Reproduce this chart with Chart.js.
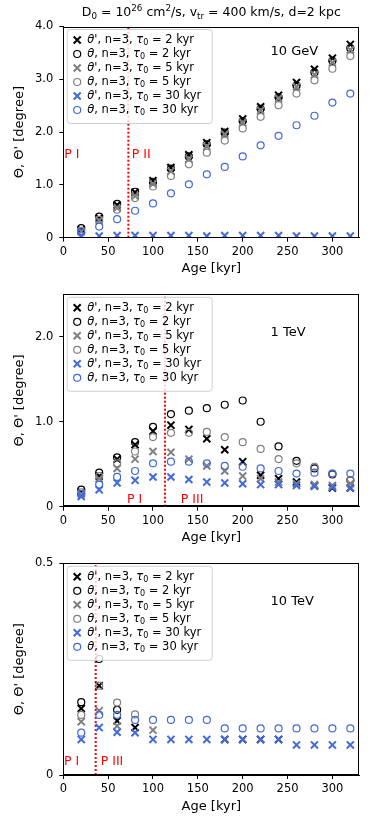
<!DOCTYPE html>
<html>
<head>
<meta charset="utf-8">
<script src="https://cdn.jsdelivr.net/npm/chart.js@4.4.0/dist/chart.umd.min.js"></script>
<style>
  body { margin: 0; background: #fff; width: 374px; height: 821px; overflow: hidden; position: relative; }
  canvas { position: absolute; left: 0; }
</style>
</head>
<body>
<canvas id="c1" width="374" height="280" style="top:0px"></canvas>
<canvas id="c2" width="374" height="275" style="top:275px"></canvas>
<canvas id="c3" width="374" height="276" style="top:545px"></canvas>
<script>
// Edades de las fuentes (kyr)
const ages = [20, 40, 60, 80, 100, 120, 140, 160, 180, 200, 220, 240, 260, 280, 300, 320];
const xTicks = [0, 50, 100, 150, 200, 250, 300];

// 10 GeV
const gev10ThP2 = [0.15, 0.37, 0.62, 0.86, 1.08, 1.33, 1.57, 1.80, 2.01, 2.25, 2.48, 2.70, 2.94, 3.19, 3.40, 3.66];
const gev10Th2 = [0.18, 0.40, 0.64, 0.87, 1.06, 1.31, 1.54, 1.77, 1.99, 2.21, 2.44, 2.66, 2.88, 3.13, 3.35, 3.59];
const gev10ThP5 = [0.12, 0.33, 0.56, 0.79, 1.02, 1.26, 1.49, 1.73, 1.96, 2.18, 2.41, 2.64, 2.86, 3.09, 3.32, 3.56];
const gev10Th5 = [0.13, 0.34, 0.53, 0.75, 0.97, 1.17, 1.39, 1.61, 1.84, 2.07, 2.29, 2.51, 2.73, 2.98, 3.20, 3.44];
const gev10ThP30 = [0.03, 0.03, 0.04, 0.04, 0.04, 0.04, 0.04, 0.03, 0.04, 0.04, 0.04, 0.04, 0.03, 0.03, 0.03, 0.03];
const gev10Th30 = [0.10, 0.21, 0.35, 0.51, 0.65, 0.84, 1.01, 1.20, 1.34, 1.54, 1.75, 1.93, 2.13, 2.31, 2.56, 2.73];

// 1 TeV
const tev1ThP2 = [0.17, 0.36, 0.56, 0.73, 0.89, 0.96, 0.91, 0.80, 0.67, 0.53, 0.37, 0.33, 0.29, 0.25, 0.22, 0.22];
const tev1Th2 = [0.20, 0.40, 0.58, 0.76, 0.94, 1.09, 1.13, 1.16, 1.20, 1.25, 1.00, 0.71, 0.54, 0.45, 0.38, 0.31];
const tev1ThP5 = [0.15, 0.33, 0.45, 0.56, 0.65, 0.64, 0.56, 0.48, 0.42, 0.36, 0.33, 0.29, 0.27, 0.26, 0.25, 0.27];
const tev1Th5 = [0.17, 0.36, 0.51, 0.65, 0.82, 0.87, 0.87, 0.88, 0.82, 0.76, 0.68, 0.56, 0.51, 0.47, 0.39, 0.31];
const tev1ThP30 = [0.12, 0.20, 0.28, 0.31, 0.35, 0.35, 0.32, 0.29, 0.28, 0.27, 0.26, 0.26, 0.25, 0.24, 0.23, 0.22];
const tev1Th30 = [0.15, 0.26, 0.35, 0.42, 0.51, 0.53, 0.53, 0.51, 0.48, 0.47, 0.45, 0.42, 0.39, 0.40, 0.39, 0.39];

// 10 TeV
const tev10ThP2 = [0.157, 0.211, 0.128, 0.112, null, null, null, null, 0.084, 0.084, 0.084, 0.084, null, null, null, null];
const tev10Th2 = [0.172, 0.274, 0.154, null, null, null, null, null, null, null, null, null, null, null, null, null];
const tev10ThP5 = [0.126, 0.152, 0.116, null, 0.106, null, null, null, null, null, null, null, null, null, null, null];
const tev10Th5 = [0.142, 0.211, 0.171, 0.143, null, null, null, null, null, null, null, null, null, null, null, null];
const tev10ThP30 = [0.084, 0.112, 0.101, 0.100, 0.084, 0.084, 0.084, 0.084, 0.084, 0.084, 0.084, 0.084, 0.071, 0.071, 0.071, 0.071];
const tev10Th30 = [0.100, 0.142, 0.142, 0.130, 0.130, 0.130, 0.130, 0.130, 0.110, 0.110, 0.110, 0.110, 0.110, 0.110, 0.110, 0.110];

// Leyenda
const legendPrime = [true, false, true, false, true, false];
const legendTau = [2, 2, 5, 5, 30, 30];
const colores = ['#000000', '#000000', '#808080', '#808080', '#4169e1', '#4169e1'];
const FONT = '"DejaVu Sans"';

function serie(arr) {
    return ages.map((a, i) => ({ x: a, y: arr[i] })).filter(p => p.y !== null);
}

// Texto con subíndices / superíndices / cursiva
function medirRico(ctx, segs, size) {
    let w = 0;
    segs.forEach(s => {
        const fs = (s.sub || s.sup) ? size * 0.7 : size;
        ctx.font = (s.it ? 'italic ' : '') + fs + 'px ' + FONT;
        w += ctx.measureText(s.t).width;
    });
    return w;
}
function dibujarRico(ctx, segs, x, y, size) {
    segs.forEach(s => {
        const fs = (s.sub || s.sup) ? size * 0.7 : size;
        ctx.font = (s.it ? 'italic ' : '') + fs + 'px ' + FONT;
        const dy = s.sub ? size * 0.28 : (s.sup ? -size * 0.38 : 0);
        ctx.fillText(s.t, x, y + dy);
        x += ctx.measureText(s.t).width;
    });
}

const deco = {
    id: 'deco',
    afterDatasetsDraw(chart, args, o) {
        const { ctx, chartArea: a, scales: { x, y } } = chart;
        ctx.save();
        ctx.textBaseline = 'middle';
        ctx.textAlign = 'left';

        // Fases
        ctx.fillStyle = '#ff0000';
        ctx.font = '12.5px ' + FONT;
        o.fases.forEach(p => ctx.fillText(p.t, x.getPixelForValue(p.x), y.getPixelForValue(p.y)));

        // Energía
        ctx.fillStyle = '#000';
        ctx.font = '13px ' + FONT;
        ctx.fillText(o.energia, a.left + a.width * 0.7, a.bottom - a.height * o.energiaY);

        // Marco
        ctx.strokeStyle = '#000';
        ctx.lineWidth = 1;
        ctx.strokeRect(Math.round(a.left) + 0.5, Math.round(a.top) + 0.5, Math.round(a.width) - 1, Math.round(a.height) - 1);

        // Leyenda
        const lx = a.left + 3.4, ly = a.top + 2.5, lw = 145, lh = 94;
        ctx.fillStyle = 'rgba(255,255,255,0.8)';
        ctx.strokeStyle = '#d0d0d0';
        ctx.beginPath();
        ctx.roundRect(lx + 0.5, ly + 0.5, lw, lh, 3);
        ctx.fill();
        ctx.stroke();
        for (let i = 0; i < 6; i++) {
            const cy = ly + 11 + i * 14;
            const mx = lx + 10.5;
            ctx.strokeStyle = colores[i];
            if (i % 2 === 0) {
                ctx.lineWidth = 2;
                ctx.beginPath();
                ctx.moveTo(mx - 3.5, cy - 3.5); ctx.lineTo(mx + 3.5, cy + 3.5);
                ctx.moveTo(mx - 3.5, cy + 3.5); ctx.lineTo(mx + 3.5, cy - 3.5);
                ctx.stroke();
            } else {
                ctx.lineWidth = 1.2;
                ctx.beginPath();
                ctx.arc(mx, cy, 3.5, 0, Math.PI * 2);
                ctx.stroke();
            }
            ctx.fillStyle = '#000';
            dibujarRico(ctx, [
                { t: 'θ', it: true },
                { t: (legendPrime[i] ? "'" : '') + ', n=3, ' },
                { t: 'τ', it: true },
                { t: '0', sub: true },
                { t: ' = ' + legendTau[i] + ' kyr' }
            ], lx + 20.5, cy, 11.5);
        }

        // Título
        if (o.titulo) {
            const segs = [
                { t: 'D' }, { t: '0', sub: true }, { t: ' = 10' }, { t: '26', sup: true },
                { t: ' cm' }, { t: '2', sup: true }, { t: '/s, v' }, { t: 'tr', sub: true },
                { t: ' = 400 km/s, d=2 kpc' }
            ];
            ctx.fillStyle = '#000';
            const w = medirRico(ctx, segs, 12.5);
            dibujarRico(ctx, segs, (a.left + a.right) / 2 - w / 2, 13, 12.5);
        }
        ctx.restore();
    }
};

function crearGrafico(id, datos, yMax, yTicks, linea, opts, padTop, padBottom) {
    const estilos = ['crossRot', 'circle', 'crossRot', 'circle', 'crossRot', 'circle'];
    const datasets = datos.map((arr, i) => ({
        label: 'serie' + i,
        data: serie(arr),
        pointStyle: estilos[i],
        pointRadius: i % 2 === 0 ? 5 : 3.5,
        pointBorderWidth: i % 2 === 0 ? 2 : 1.2,
        pointBorderColor: colores[i],
        pointBackgroundColor: 'rgba(0,0,0,0)',
        borderColor: colores[i],
        backgroundColor: 'rgba(0,0,0,0)',
        showLine: false,
        order: 5 - i
    }));
    datasets.push({
        type: 'line',
        label: 'fase',
        data: [{ x: linea, y: 0 }, { x: linea, y: yMax }],
        borderColor: '#ff0000',
        borderWidth: 2,
        borderDash: [2, 2],
        pointRadius: 0,
        order: 10
    });

    return new Chart(document.getElementById(id), {
        type: 'scatter',
        data: { datasets: datasets },
        plugins: [deco],
        options: {
            responsive: false,
            animation: false,
            events: [],
            layout: { padding: { left: 0, right: 14.7, top: padTop, bottom: padBottom } },
            plugins: {
                legend: { display: false },
                tooltip: { enabled: false },
                deco: opts
            },
            scales: {
                x: {
                    type: 'linear',
                    min: 0,
                    max: 330,
                    afterBuildTicks: s => { s.ticks = xTicks.map(v => ({ value: v })); },
                    afterFit: s => { s.height = 40; },
                    ticks: { color: '#000', font: { family: FONT, size: 11.5 }, padding: 3, maxRotation: 0 },
                    grid: { drawOnChartArea: false, drawTicks: true, tickLength: 4, color: '#000' },
                    border: { display: true, color: '#000', width: 1 },
                    title: { display: true, text: 'Age [kyr]', color: '#000', font: { family: FONT, size: 13 }, padding: { top: 0, bottom: 1 } }
                },
                y: {
                    type: 'linear',
                    min: 0,
                    max: yMax,
                    afterBuildTicks: s => { s.ticks = yTicks.map(v => ({ value: v })); },
                    afterFit: s => { s.width = 63.3; },
                    ticks: {
                        color: '#000',
                        font: { family: FONT, size: 11.5 },
                        padding: 6,
                        callback: v => v === 0 ? '0' : v.toFixed(1)
                    },
                    grid: { drawOnChartArea: false, drawTicks: true, tickLength: 4, color: '#000' },
                    border: { display: true, color: '#000', width: 1 },
                    title: { display: true, text: "Θ, Θ' [degree]", color: '#000', font: { family: FONT, size: 13 }, padding: { top: 12, bottom: 0 } }
                }
            }
        }
    });
}

crearGrafico('c1',
    [gev10ThP2, gev10Th2, gev10ThP5, gev10Th5, gev10ThP30, gev10Th30],
    4.0, [0, 1, 2, 3, 4], 72.5,
    { titulo: true, energia: '10 GeV', energiaY: 0.879,
      fases: [{ t: 'P I', x: 1.1, y: 1.58 }, { t: 'P II', x: 76.3, y: 1.58 }] },
    26.5, 280 - 237.7 - 40);

crearGrafico('c2',
    [tev1ThP2, tev1Th2, tev1ThP5, tev1Th5, tev1ThP30, tev1Th30],
    2.5, [0, 1, 2], 113.4,
    { titulo: false, energia: '1 TeV', energiaY: 0.819,
      fases: [{ t: 'P I', x: 71, y: 0.08 }, { t: 'P III', x: 131, y: 0.08 }] },
    19.3, 275 - 231.7 - 40);

crearGrafico('c3',
    [tev10ThP2, tev10Th2, tev10ThP5, tev10Th5, tev10ThP30, tev10Th30],
    0.5, [0, 0.5], 36.1,
    { titulo: false, energia: '10 TeV', energiaY: 0.819,
      fases: [{ t: 'P I', x: 0.8, y: 0.031 }, { t: 'P III', x: 41.7, y: 0.031 }] },
    18.3, 276 - 230 - 40);
</script>
</body>
</html>
